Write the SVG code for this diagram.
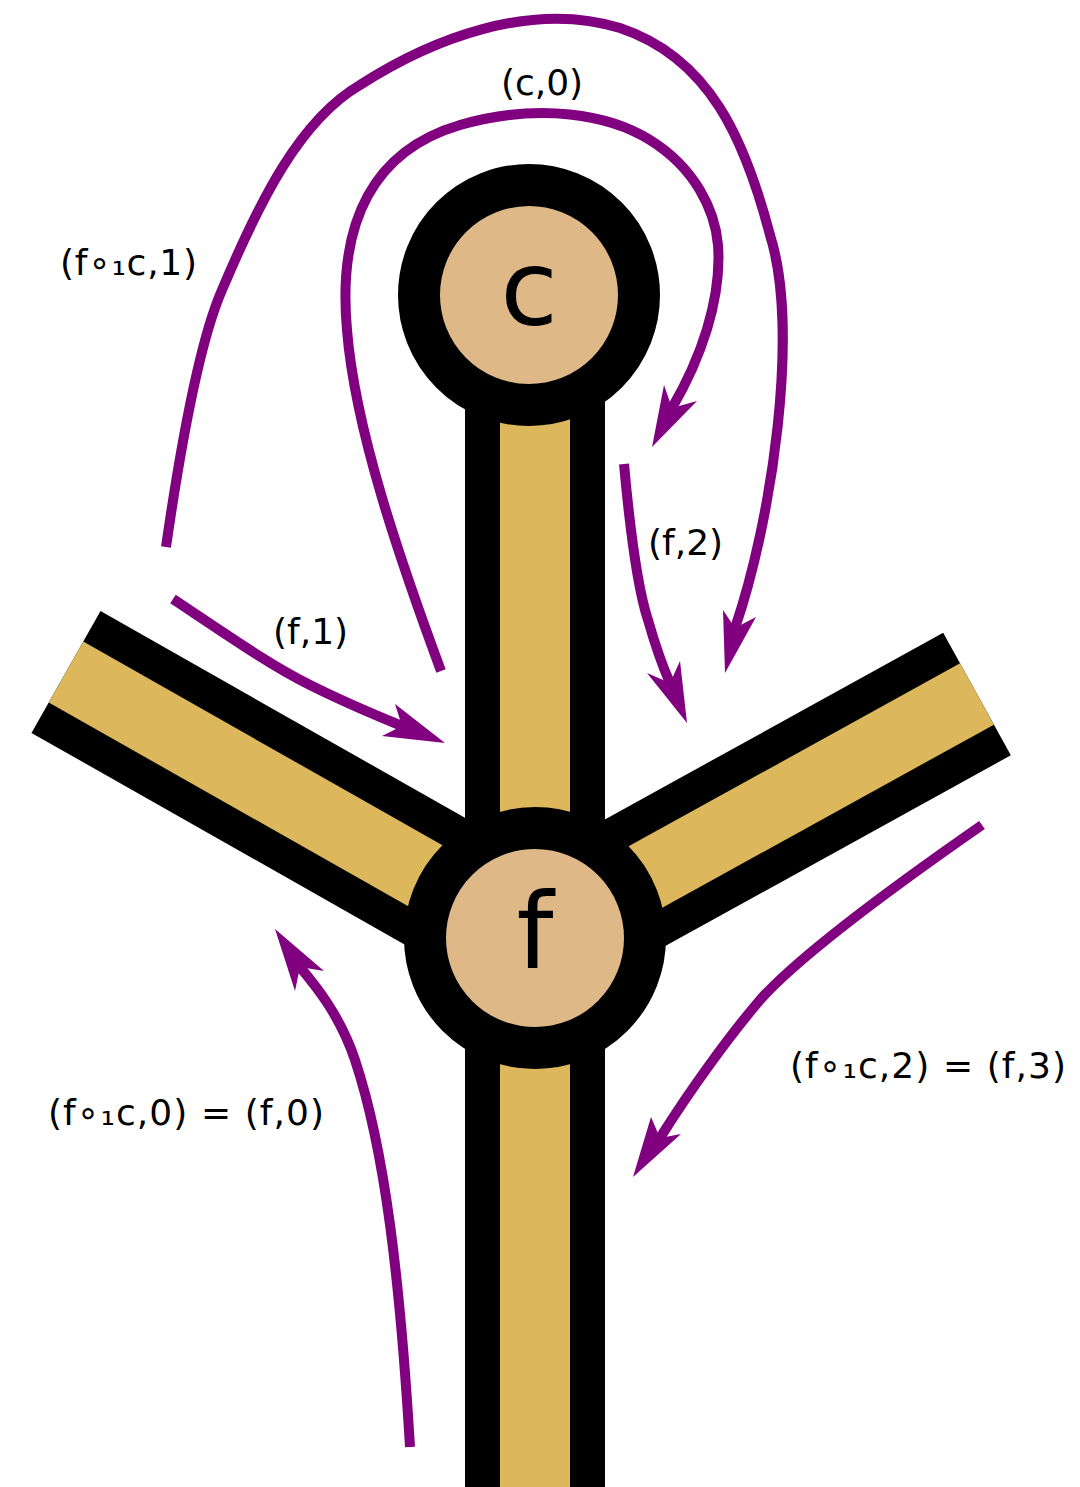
<svg xmlns="http://www.w3.org/2000/svg" width="1080" height="1487" viewBox="0 0 1080 1487">
<style>
.band{stroke:#000;stroke-width:140;fill:none}
.core{stroke:#ddb75b;stroke-width:70;fill:none}
.node{fill:#deb887;stroke:#000;stroke-width:42}
.big{font-family:"DejaVu Sans",sans-serif;font-size:105px;fill:#000;text-anchor:middle}
.lbl{font-family:"DejaVu Sans",sans-serif;font-size:36px;fill:#000}
.arr{fill:none;stroke:#800080;stroke-width:10}
.head{fill:#800080;stroke:none}
</style>
<rect width="1080" height="1487" fill="#fff"/>
<g id="wires">
<line class="band" x1="535" y1="295" x2="535" y2="1487"/>
<line class="band" x1="535" y1="938" x2="66" y2="672"/>
<line class="band" x1="535" y1="938" x2="977" y2="694"/>
<line class="core" x1="535" y1="295" x2="535" y2="1487"/>
<line class="core" x1="535" y1="938" x2="66" y2="672"/>
<line class="core" x1="535" y1="938" x2="977" y2="694"/>
</g>
<g id="node-c">
<circle class="node" cx="529" cy="295" r="110"/>
<text class="big" x="529" y="325">c</text>
</g>
<g id="node-f">
<circle class="node" cx="535" cy="938" r="110"/>
<text class="big" x="535" y="968">f</text>
</g>
<g id="connectors">
<path class="arr" d="M441,671 C400,560 355,430 347,330 C337,220 375,150 460,125 C540,102 610,115 650,140 C695,168 715,210 718,245 C722,300 700,360 672,408"/>
<polygon class="head" points="652,447 664,385 672,408 697,401"/>
<path class="arr" d="M166,547 C180,450 200,340 222,290 C260,200 300,120 360,85 C430,40 530,0 620,28 C710,58 745,140 770,235 C800,330 772,520 735,628"/>
<polygon class="head" points="725,673 723,610 735,628 756,617"/>
<path class="arr" d="M173,599 C230,637 270,665 310,685 C340,700 370,713 402,726"/>
<polygon class="head" points="445,743 395,704 402,726 382,736"/>
<path class="arr" d="M624,464 C630,530 638,590 648,620 C656,648 662,665 670,683"/>
<polygon class="head" points="687,723 647,673 670,683 680,661"/>
<path class="arr" d="M410,1447 C400,1280 385,1150 355,1060 C340,1015 315,985 300,967"/>
<polygon class="head" points="275,929 324,971 300,967 295,991"/>
<path class="arr" d="M982,825 C900,882 800,955 760,1000 C730,1035 690,1090 660,1138"/>
<polygon class="head" points="633,1177 651,1117 660,1138 681,1134"/>
</g>
<g id="labels">
<text class="lbl" x="542" y="95" text-anchor="middle">(c,0)</text>
<text class="lbl" x="60" y="275" textLength="137" lengthAdjust="spacing">(f∘₁c,1)</text>
<text class="lbl" x="273" y="644">(f,1)</text>
<text class="lbl" x="648" y="555">(f,2)</text>
<text class="lbl" x="48" y="1125" textLength="276" lengthAdjust="spacing">(f∘₁c,0) = (f,0)</text>
<text class="lbl" x="790" y="1078" textLength="276" lengthAdjust="spacing">(f∘₁c,2) = (f,3)</text>
</g>
</svg>
